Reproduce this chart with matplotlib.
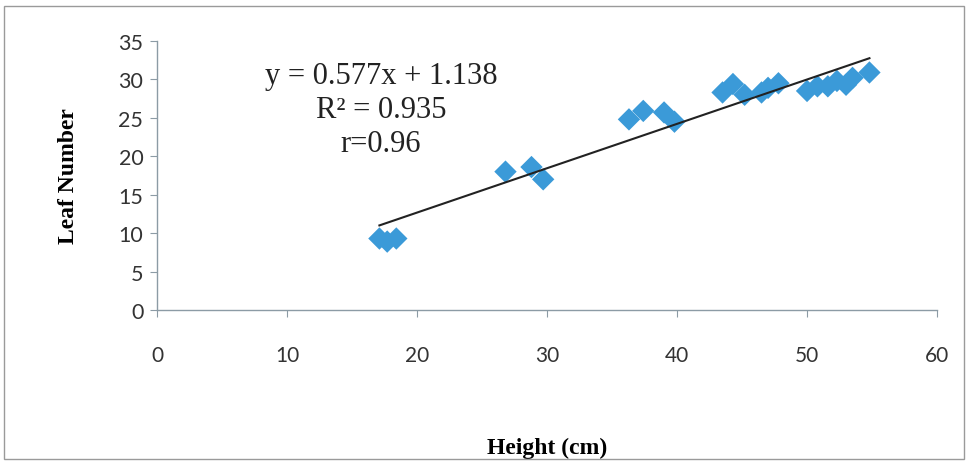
import matplotlib
matplotlib.use("Agg")
import matplotlib.pyplot as plt
import numpy as np
from matplotlib.patches import Rectangle

# plant height (cm) vs leaf number
height = [17.1, 17.7, 18.4,
          26.8, 28.8, 29.7,
          36.3, 37.4, 39.0, 39.8,
          43.5, 44.3, 45.2, 46.5, 47.0, 47.8,
          50.0, 50.8, 51.6, 52.3, 53.0, 53.5, 54.8]
leaves = [9.3, 8.9, 9.3,
          18.0, 18.6, 17.0,
          24.8, 25.9, 25.7, 24.5,
          28.3, 29.4, 28.0, 28.3, 28.9, 29.5,
          28.5, 29.1, 29.1, 29.8, 29.3, 30.2, 30.9]

# trendline as printed on the chart
slope = 0.577
intercept = 1.138
eq_lines = ["y = 0.577x + 1.138", "R\u00b2 = 0.935", "r=0.96"]

xticks = [0, 10, 20, 30, 40, 50, 60]
yticks = [0, 5, 10, 15, 20, 25, 30, 35]

axis_col = "#8c9ba5"
tick_font = "Lato"
serif = "Liberation Serif"

fig = plt.figure(figsize=(9.7, 4.77), dpi=100)
fig.patch.set_facecolor("white")
fig.patches.append(Rectangle((0.004, 0.035), 0.99, 0.95, transform=fig.transFigure,
                             fill=False, edgecolor="#9a9a9a", linewidth=1.0))

ax = fig.add_axes([0.162, 0.348, 0.804, 0.564])
ax.scatter(height, leaves, marker="D", s=130, color="#3b9ad8", edgecolors="none", zorder=3)

xs = np.array([min(height), max(height)])
ax.plot(xs, slope * xs + intercept, color="#222222", linewidth=1.5, zorder=4)

ax.set_xlim(0, 60)
ax.set_ylim(0, 35)
ax.set_xticks(xticks)
ax.set_yticks(yticks)

for s in ["top", "right"]:
    ax.spines[s].set_visible(False)
for s in ["left", "bottom"]:
    ax.spines[s].set_color(axis_col)
    ax.spines[s].set_linewidth(1.0)

ax.tick_params(axis="x", direction="out", length=5, color=axis_col, pad=20,
               labelsize=15, labelcolor="#333333")
ax.tick_params(axis="y", direction="out", length=5, color=axis_col, pad=5,
               labelsize=15.5, labelcolor="#333333")
for lab in ax.get_xticklabels() + ax.get_yticklabels():
    lab.set_family(tick_font)

ax.set_xlabel("Height (cm)", family=serif, fontweight="bold", fontsize=17, labelpad=52)
ax.set_ylabel("Leaf Number", family=serif, fontweight="bold", fontsize=17, labelpad=28)

ax.text(0.287, 0.745, "\n".join(eq_lines), transform=ax.transAxes, ha="center", va="center",
        family=serif, fontsize=22, linespacing=1.22, color="#222222")

fig.savefig("out.png", dpi=100, facecolor="white")
